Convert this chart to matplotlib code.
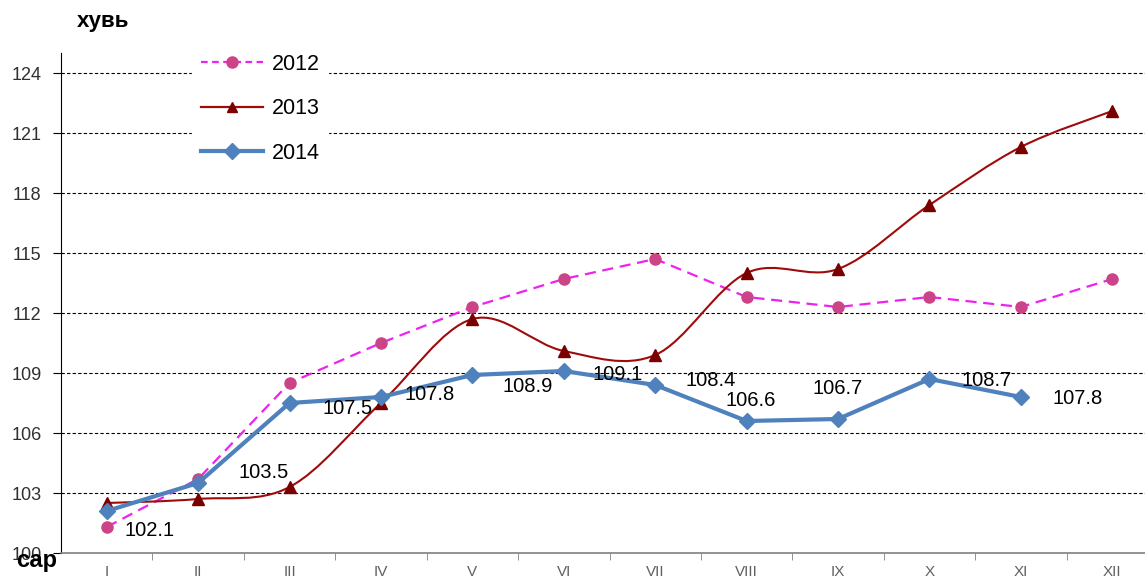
import matplotlib
matplotlib.use("Agg")
import matplotlib.pyplot as plt
from matplotlib.path import Path
from matplotlib.patches import PathPatch
from matplotlib.lines import Line2D
import numpy as np

plt.rcParams['font.family'] = ['Liberation Sans', 'DejaVu Sans']

months = ["I", "II", "III", "IV", "V", "VI", "VII", "VIII", "IX", "X", "XI", "XII"]
y2012 = [101.3, 103.7, 108.5, 110.5, 112.3, 113.7, 114.7, 112.8, 112.3, 112.8, 112.3, 113.7]
y2013 = [102.5, 102.7, 103.3, 107.5, 111.7, 110.1, 109.9, 114.0, 114.2, 117.4, 120.3, 122.1]
y2014 = [102.1, 103.5, 107.5, 107.8, 108.9, 109.1, 108.4, 106.6, 106.7, 108.7, 107.8]
yticks = [100, 103, 106, 109, 112, 115, 118, 121, 124]

# label offsets for 2014 values, in pixels
lab_off = [(43, -20), (66, 11), (58, -5), (49, 3), (55, -11), (54, -3),
           (55, 4), (4, 20), (0, 30), (57, -2), (57, -2)]

c12_line = "#EE22EE"
c12_mark = "#CC4488"
c13 = "#9E0B0B"
c13_mark = "#7A0000"
c14 = "#4F81BD"


def smooth_path(xs, ys):
    """ bezier curve through the points, like excel smoothed line """
    pts = np.column_stack([xs, ys]).astype(float)
    verts = [pts[0]]
    codes = [Path.MOVETO]
    n = len(pts)
    for i in range(n - 1):
        p0 = pts[i - 1] if i > 0 else pts[i]
        p1 = pts[i]
        p2 = pts[i + 1]
        p3 = pts[i + 2] if i + 2 < n else pts[i + 1]
        c1 = p1 + (p2 - p0) / 6.0
        c2 = p2 - (p3 - p1) / 6.0
        verts += [c1, c2, p2]
        codes += [Path.CURVE4] * 3
    return Path(verts, codes)


fig = plt.figure(figsize=(11.45, 5.8), dpi=100)
ax = fig.add_axes([61 / 1145, 1 - 553 / 580, 1097 / 1145, 500 / 580])

x = np.arange(len(months))
x14 = np.arange(len(y2014))

ax.set_ylim(100, 125)
ax.set_xlim(-0.5, 11.5)
ax.set_yticks(yticks)
ax.set_yticklabels([str(v) for v in yticks], fontsize=13, color="#303030")
for v in yticks[1:]:
    ax.axhline(v, color="black", lw=0.8, ls=(0, (3, 2)), zorder=1)

ax.set_xticks(x)
ax.set_xticklabels(months, fontsize=11, color="#606060")
ax.set_xticks(np.arange(0.5, 11.5, 1), minor=True)
ax.tick_params(axis="x", which="major", length=0, pad=9)
ax.tick_params(axis="x", which="minor", length=5, color="#808080", direction="out")
ax.tick_params(axis="y", length=6, direction="out", pad=8)

ax.spines["top"].set_visible(False)
ax.spines["right"].set_visible(False)
ax.spines["bottom"].set_color("#808080")
ax.spines["bottom"].set_linewidth(1.2)
ax.spines["left"].set_color("black")

# 2012
ax.plot(x, y2012, color=c12_line, ls=(0, (5, 3)), lw=1.6, zorder=3)
ax.plot(x, y2012, ls="none", marker="o", ms=8, color=c12_mark, zorder=4)

# 2013 smooth
ax.add_patch(PathPatch(smooth_path(x, y2013), facecolor="none", edgecolor=c13, lw=1.5, zorder=3))
ax.plot(x, y2013, ls="none", marker="^", ms=8, color=c13_mark, zorder=4)

# 2014
ax.plot(x14, y2014, color=c14, lw=3, marker="D", ms=8, zorder=5)
for i, v in enumerate(y2014):
    ax.annotate(str(v), (x14[i], v), xytext=lab_off[i], textcoords="offset pixels",
                ha="center", va="center", fontsize=14.5, color="black", zorder=6)

h12 = Line2D([], [], color=c12_line, ls=(0, (3, 2)), lw=1.6, marker="o", ms=8,
             markerfacecolor=c12_mark, markeredgecolor=c12_mark)
h13 = Line2D([], [], color=c13, lw=1.6, marker="^", ms=7,
             markerfacecolor=c13_mark, markeredgecolor=c13_mark)
h14 = Line2D([], [], color=c14, lw=3, marker="D", ms=8)
leg = ax.legend([h12, h13, h14], ["2012", "2013", "2014"], loc="upper left",
                bbox_to_anchor=(192 / 1145, 1 - 45 / 580), bbox_transform=fig.transFigure,
                fontsize=15.5, frameon=True, fancybox=False, framealpha=1,
                edgecolor="white", handlelength=2.9, labelspacing=1.1,
                handletextpad=0.4, borderaxespad=0)
leg.set_zorder(10)

fig.text(77 / 1145, 1 - 22 / 580, "хувь", fontsize=16, fontweight="bold", va="center")
fig.text(16 / 1145, 1 - 561 / 580, "сар", fontsize=17, fontweight="bold", va="center")

fig.savefig("out.png", dpi=100)
